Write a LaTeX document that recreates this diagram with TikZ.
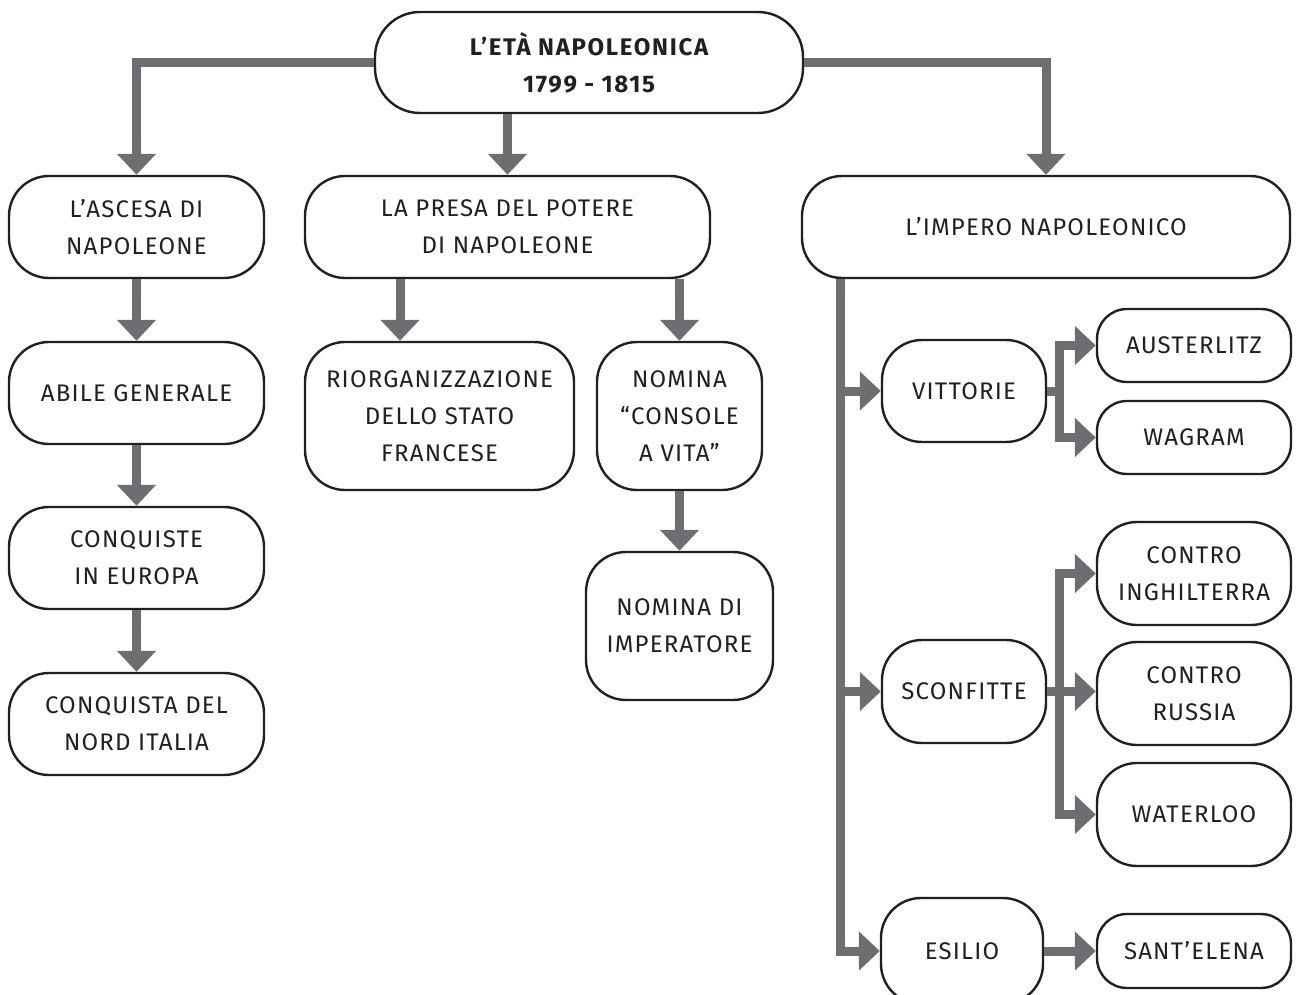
\documentclass[tikz,border=0pt]{standalone}
\usepackage{fontspec}
\setmainfont{Fira Sans}[LetterSpace=5]
\newfontfamily\titlefont{Fira Sans}[LetterSpace=7]
\usetikzlibrary{arrows.meta}
\definecolor{arrgray}{HTML}{6D6E71}
\definecolor{txt}{HTML}{231F20}
\tikzset{
  box/.style={draw=txt, line width=2.4pt, rounded corners=40pt, fill=white, align=center,
    inner sep=0pt, text=txt, font=\fontsize{24pt}{37pt}\selectfont},
  arr/.style={draw=arrgray, line width=9pt, line join=miter,
    -{Triangle[width=38pt,length=21pt]}}
}
\begin{document}
\begin{tikzpicture}[x=1pt,y=-1pt]
\useasboundingbox (0,0) rectangle (1296,995);
\node[box, rounded corners=45pt, minimum width=428pt, minimum height=101pt,
  font=\titlefont\fontsize{24pt}{37pt}\selectfont\bfseries] (top) at (589,62.5) {L’ETÀ NAPOLEONICA\\1799 - 1815};
\node[box, minimum width=255pt, minimum height=102pt] (asc) at (136.5,227) {L’ASCESA DI\\NAPOLEONE};
\node[box, minimum width=405pt, minimum height=102pt] (presa) at (507.5,227) {LA PRESA DEL POTERE\\DI NAPOLEONE};
\node[box, minimum width=488pt, minimum height=102pt] (impero) at (1046,227) {L’IMPERO NAPOLEONICO};
\node[box, minimum width=255pt, minimum height=102pt] (abile) at (136.5,393) {ABILE GENERALE};
\node[box, minimum width=255pt, minimum height=102pt] (conq) at (136.5,558) {CONQUISTE\\IN EUROPA};
\node[box, minimum width=255pt, minimum height=102pt] (nord) at (136.5,724) {CONQUISTA DEL\\NORD ITALIA};
\node[box, minimum width=269pt, minimum height=148pt] (riorg) at (439.5,416) {RIORGANIZZAZIONE\\DELLO STATO\\FRANCESE};
\node[box, minimum width=165pt, minimum height=148pt] (nomina) at (679.5,416) {NOMINA\\“CONSOLE\\A VITA”};
\node[box, minimum width=187pt, minimum height=148pt] (imper) at (679.5,626) {NOMINA DI\\IMPERATORE};
\node[box, minimum width=164pt, minimum height=102pt] (vitt) at (964,391) {VITTORIE};
\node[box, rounded corners=30pt, minimum width=194pt, minimum height=73pt] (aust) at (1194,345.5) {AUSTERLITZ};
\node[box, rounded corners=30pt, minimum width=194pt, minimum height=73pt] (wag) at (1194,437.5) {WAGRAM};
\node[box, minimum width=194pt, minimum height=103pt] (ingh) at (1194,573.5) {CONTRO\\INGHILTERRA};
\node[box, minimum width=164pt, minimum height=103pt] (sconf) at (964,691.5) {SCONFITTE};
\node[box, minimum width=194pt, minimum height=103pt] (russ) at (1194,693.5) {CONTRO\\RUSSIA};
\node[box, minimum width=194pt, minimum height=103pt] (water) at (1194,814.5) {WATERLOO};
\node[box, minimum width=162pt, minimum height=106pt] (esil) at (962,951) {ESILIO};
\node[box, rounded corners=30pt, minimum width=194pt, minimum height=74pt] (sant) at (1194,951) {SANT’ELENA};

\coordinate (c1) at (400,0);
\coordinate (tr) at (840,0);
\coordinate (f1) at (1059,0);

\draw[arr] (top.west) -| (asc.north);
\draw[arr] (top.east) -| (impero.north);
\draw[arr] (presa.north |- top.south) -- (presa.north);
\draw[arr] (asc) -- (abile);
\draw[arr] (abile) -- (conq);
\draw[arr] (conq) -- (nord);
\draw[arr] (c1 |- presa.south) -- (c1 |- riorg.north);
\draw[arr] (nomina.north |- presa.south) -- (nomina.north);
\draw[arr] (nomina) -- (imper);
\draw[arr] (tr |- impero.south) |- (esil.west);
\draw[arr] (tr |- vitt.west) -- (vitt.west);
\draw[arr] (tr |- sconf.west) -- (sconf.west);
\draw[arr] (vitt.east) -- (f1 |- vitt.east) |- (aust.west);
\draw[arr] (vitt.east) -- (f1 |- vitt.east) |- (wag.west);
\draw[arr] (sconf.east) -- (f1 |- sconf.east) |- (ingh.west);
\draw[arr] (sconf.east) -- (f1 |- sconf.east) |- (water.west);
\draw[arr] (sconf.east) -- (russ.west |- sconf.east);
\draw[arr] (esil.east) -- (sant.west |- esil.east);
\end{tikzpicture}
\end{document}
